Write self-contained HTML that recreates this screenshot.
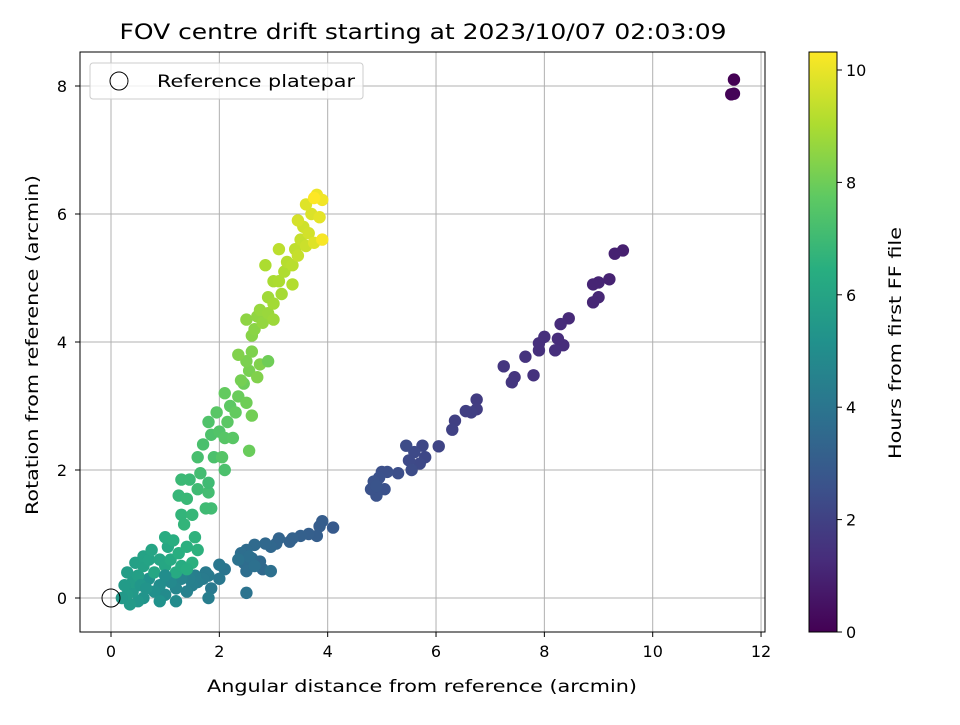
<!DOCTYPE html>
<html><head><meta charset="utf-8"><style>
body{margin:0;background:#fff;}
svg{font-family:"DejaVu Sans","Liberation Sans",sans-serif;}
</style></head><body>
<svg id="chart" width="960" height="720" viewBox="0 0 960 720" xmlns="http://www.w3.org/2000/svg">
<defs><linearGradient id="vir" x1="0" y1="1" x2="0" y2="0">
<stop offset="0" stop-color="#440154"/><stop offset="0.125" stop-color="#472d7b"/><stop offset="0.25" stop-color="#3b528b"/><stop offset="0.375" stop-color="#2c728e"/><stop offset="0.5" stop-color="#21918c"/><stop offset="0.625" stop-color="#28ae80"/><stop offset="0.75" stop-color="#5ec962"/><stop offset="0.875" stop-color="#addc30"/><stop offset="1" stop-color="#fde725"/>
</linearGradient><clipPath id="pc"><rect x="80" y="52" width="685" height="580"/></clipPath></defs>
<text x="423" y="39" text-anchor="middle" font-size="21" textLength="607" lengthAdjust="spacingAndGlyphs">FOV centre drift starting at 2023/10/07 02:03:09</text>
<g id="grid"></g>
<g id="pts" clip-path="url(#pc)"></g>
<rect x="80" y="52" width="685" height="580" fill="none" stroke="#000" stroke-width="1"/>
<g id="ticks"></g>
<text x="422" y="692" text-anchor="middle" font-size="17" textLength="430" lengthAdjust="spacingAndGlyphs">Angular distance from reference (arcmin)</text>
<text transform="translate(38,345) rotate(-90)" text-anchor="middle" font-size="17" textLength="340" lengthAdjust="spacingAndGlyphs">Rotation from reference (arcmin)</text>
<g>
<rect x="90" y="63" width="273" height="36" rx="3" fill="#fff" fill-opacity="0.8" stroke="#ccc"/>
<circle cx="119" cy="81" r="9" fill="none" stroke="#000"/>
<text x="157" y="87" font-size="17" textLength="198" lengthAdjust="spacingAndGlyphs">Reference platepar</text>
</g>
<rect x="809" y="52" width="28" height="580" fill="url(#vir)" stroke="#000"/>
<g id="cticks"></g>
<text transform="translate(901,343) rotate(-90)" text-anchor="middle" font-size="17" textLength="232" lengthAdjust="spacingAndGlyphs">Hours from first FF file</text>
</svg>
<script>
const xTicks=[0,2,4,6,8,10,12];
const yTicks=[0,2,4,6,8];
const cTicks=[0,2,4,6,8,10];
const xs=[11.5,11.45,11.5,9.45,9.3,9.2,9.0,8.9,9.0,8.9,8.45,8.3,8.35,8.25,8.2,8.0,7.9,7.9,7.8,7.65,7.45,7.4,7.25,6.75,6.75,6.65,6.55,6.35,6.3,6.05,5.75,5.8,5.7,5.6,5.5,5.45,5.55,5.3,5.1,5.0,5.05,4.95,4.9,4.85,4.8,4.9,
4.1,3.9,3.85,3.8,3.65,3.5,3.35,3.3,3.1,3.05,2.95,2.85,2.8,2.75,2.65,2.6,2.5,2.45,2.4,2.5,2.55,2.65,2.95,2.35,2.5,2.1,2.0,2.0,1.85,1.8,1.75,1.7,1.8,1.6,1.55,1.5,1.45,1.4,
1.3,1.2,1.1,1.0,0.9,0.8,0.7,0.6,0.5,0.4,0.35,0.3,0.4,0.3,0.5,0.45,0.6,0.6,0.7,0.75,0.9,0.8,1.0,1.05,1.1,1.2,1.3,1.0,1.15,1.25,1.4,1.5,1.6,1.55,0.55,0.9,1.2,0.2,0.25,0.65,1.0,1.4,
1.3,1.25,1.3,1.45,1.35,1.5,1.4,1.6,1.85,1.8,1.65,1.6,1.7,1.9,1.85,1.8,2.0,2.05,2.1,1.95,2.15,2.2,2.1,2.3,2.35,2.45,2.5,2.6,2.4,2.55,2.5,2.6,2.75,2.7,2.6,2.65,2.5,2.7,2.8,2.75,2.9,3.0,2.9,3.0,3.15,3.0,3.1,3.2,3.35,3.25,3.35,3.1,3.4,3.5,3.45,3.6,3.55,3.65,3.45,3.7,3.6,3.75,3.85,3.8,3.9,3.9,3.75,2.9,2.85,2.35,2.55,1.8,1.75,2.1,2.25];
const ys=[8.1,7.87,7.88,5.43,5.38,4.98,4.93,4.9,4.7,4.62,4.37,4.28,3.95,4.05,3.87,4.08,3.98,3.87,3.48,3.77,3.45,3.37,3.62,3.1,2.95,2.9,2.92,2.77,2.63,2.37,2.38,2.2,2.1,2.28,2.15,2.38,2.0,1.95,1.97,1.97,1.7,1.88,1.6,1.82,1.7,1.75,
1.1,1.2,1.12,0.97,1.0,0.97,0.93,0.88,0.93,0.85,0.8,0.85,0.45,0.57,0.83,0.62,0.75,0.55,0.7,0.42,0.65,0.5,0.42,0.6,0.08,0.45,0.52,0.3,0.15,0.35,0.4,0.3,0.0,0.25,0.35,0.2,0.3,0.1,
0.3,0.15,0.25,0.05,0.2,0.1,0.3,0.0,-0.05,0.1,-0.1,0.05,0.25,0.4,0.35,0.55,0.5,0.65,0.6,0.75,0.6,0.4,0.5,0.8,0.6,0.4,0.5,0.95,0.9,0.7,0.8,0.55,0.75,0.95,0.2,-0.05,-0.05,0.0,0.2,0.15,0.35,0.45,
1.3,1.6,1.85,1.85,1.15,1.3,1.55,1.7,1.4,1.65,1.95,2.2,2.4,2.2,2.55,2.75,2.6,2.2,2.5,2.9,2.75,3.0,3.2,2.9,3.15,3.35,3.05,2.85,3.4,3.55,3.7,3.85,3.65,3.45,4.1,4.2,4.35,4.4,4.3,4.5,4.45,4.35,4.7,4.6,4.75,4.95,4.95,5.1,4.9,5.25,5.2,5.45,5.45,5.6,5.35,5.5,5.8,5.7,5.9,6.0,6.15,5.55,5.95,6.3,6.22,5.6,6.25,3.7,5.2,3.8,2.3,1.8,1.4,2.0,2.5];
const hours=[0,0.05,0.1,0.9,0.95,1.0,1.05,1.05,1.1,1.1,1.2,1.25,1.3,1.3,1.35,1.35,1.4,1.4,1.45,1.5,1.55,1.6,1.6,1.8,1.85,1.9,1.9,1.95,2.0,2.1,2.2,2.2,2.25,2.3,2.3,2.35,2.35,2.45,2.5,2.5,2.55,2.55,2.6,2.6,2.6,2.65,
2.9,3.0,3.0,3.05,3.1,3.15,3.2,3.2,3.3,3.35,3.4,3.45,3.5,3.5,3.55,3.6,3.6,3.65,3.7,3.7,3.75,3.8,3.8,3.85,3.9,4.0,4.05,4.1,4.15,4.2,4.2,4.25,4.3,4.3,4.35,4.4,4.45,4.5,
4.6,4.7,4.8,4.9,5.0,5.1,5.2,5.3,5.4,5.5,5.55,5.6,5.65,5.7,5.75,5.8,5.85,5.9,5.95,6.0,6.05,6.1,6.1,6.15,6.2,6.25,6.3,6.35,6.4,6.45,6.5,6.5,6.55,6.6,5.4,5.2,4.9,5.5,5.6,5.3,5.0,6.4,
6.7,6.8,6.9,6.9,6.7,6.8,6.85,7.0,7.05,7.1,7.1,7.2,7.25,7.3,7.35,7.4,7.45,7.5,7.55,7.6,7.65,7.7,7.8,7.8,7.9,7.95,8.0,8.05,8.1,8.15,8.2,8.25,8.3,8.3,8.4,8.45,8.5,8.55,8.6,8.65,8.7,8.75,8.8,8.85,8.9,8.95,9.0,9.05,9.1,9.15,9.2,9.25,9.3,9.4,9.4,9.5,9.55,9.6,9.65,9.75,9.8,9.8,9.9,10.05,10.1,10.2,10.3,8.0,9.0,8.3,7.9,7.0,7.0,7.3,7.6];
const NS="http://www.w3.org/2000/svg";
const X=v=>111+v*54.17, Y=v=>598-v*64, C=v=>632-v*56.2;
const vir=[[68,1,84],[71,45,123],[59,82,139],[44,114,142],[33,145,140],[40,174,128],[94,201,98],[173,220,48],[253,231,37]];
function col(h){let t=Math.max(0,Math.min(1,h/10.3))*8,i=Math.min(7,Math.floor(t)),f=t-i,a=vir[i],b=vir[i+1];
return`rgb(${a.map((c,k)=>Math.round(c+(b[k]-c)*f)).join(',')})`;}
function mk(tag,at,p){const e=document.createElementNS(NS,tag);for(const k in at)e.setAttribute(k,at[k]);p.appendChild(e);return e;}
const g=document.getElementById('grid'),t=document.getElementById('ticks'),pts=document.getElementById('pts'),ct=document.getElementById('cticks');
xTicks.forEach(v=>{const l=mk('line',{x1:X(v),x2:X(v),y1:52,y2:632,stroke:'#b0b0b0','stroke-width':1},g);


mk('line',{x1:X(v),x2:X(v),y1:632,y2:637,stroke:'#000'},t);
const tx=mk('text',{x:X(v),y:657,'text-anchor':'middle','font-size':16},t);tx.textContent=v;

});
yTicks.forEach(v=>{const l=mk('line',{x1:80,x2:765,y1:Y(v),y2:Y(v),stroke:'#b0b0b0','stroke-width':1},g);


mk('line',{x1:75,x2:80,y1:Y(v),y2:Y(v),stroke:'#000'},t);
const tx=mk('text',{x:67,y:Y(v)+6,'text-anchor':'end','font-size':16},t);tx.textContent=v;

});
cTicks.forEach(v=>{mk('line',{x1:837,x2:842,y1:C(v),y2:C(v),stroke:'#000'},ct);
const tx=mk('text',{x:846,y:C(v)+6,'font-size':16},ct);tx.textContent=v;

});
xs.forEach((x,i)=>{const c=mk('circle',{cx:X(x),cy:Y(ys[i]),r:6.2,fill:col(hours[i])},pts);

});
const ref=mk('circle',{cx:X(0),cy:Y(0),r:9,fill:'none',stroke:'#000'},pts);


</script>
</body></html>
